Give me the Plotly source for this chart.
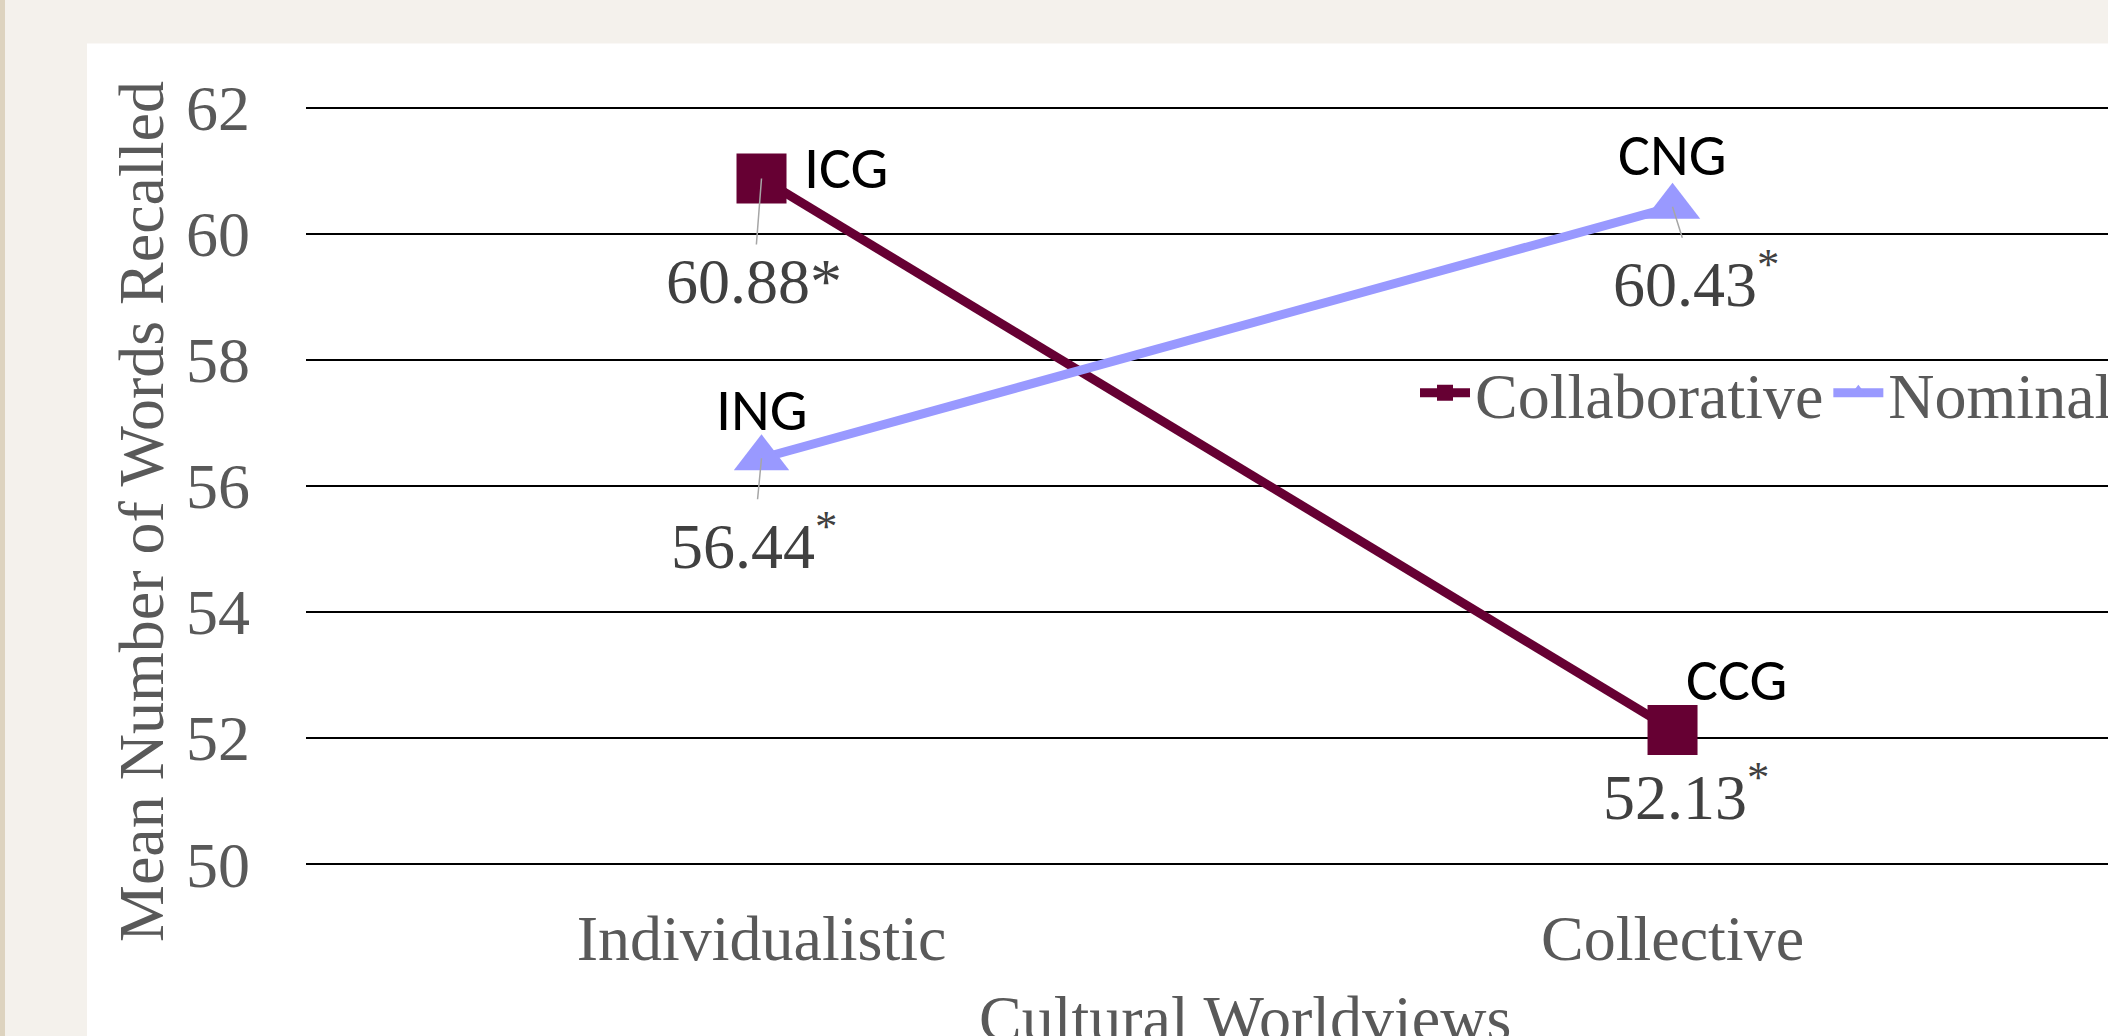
import plotly.graph_objects as go

categories = ["Individualistic", "Collective"]
collab_values = [60.88, 52.13]
nominal_values = [56.44, 60.43]
collab_names = ["ICG", "CCG"]
nominal_names = ["ING", "CNG"]
collab_value_text = ["60.88*", "52.13<sup>*</sup>"]
nominal_value_text = ["56.44<sup>*</sup>", "60.43<sup>*</sup>"]
y_ticks = [50, 52, 54, 56, 58, 60, 62]
x_title = "Cultural Worldviews"
y_title = "Mean Number of Words Recalled"

SERIF = "Times New Roman, Liberation Serif, serif"
SANS = "Carlito, Lato, sans-serif"
COLLAB = "#660033"
NOMINAL = "#9999ff"
AXIS_GRAY = "#595959"

W, H = 2108, 1036
Y_RANGE = [49.97, 62.03]
PX_PER_UNIT = 757 / 12.0
ML = 306
MT = 107.5 - (Y_RANGE[1] - 62) * PX_PER_UNIT
plot_h = (Y_RANGE[1] - Y_RANGE[0]) * PX_PER_UNIT
MB = H - MT - plot_h
plot_w = W - ML
plot_bottom = MT + plot_h


def px_to_paper_x(px):
    return (px - ML) / plot_w


def px_to_paper_y(py):
    return (plot_bottom - py) / plot_h


fig = go.Figure()
fig.add_trace(go.Scatter(
    x=categories, y=collab_values, name="Collaborative", mode="lines+markers",
    line=dict(color=COLLAB, width=9),
    marker=dict(symbol="square", size=50, color=COLLAB),
))
fig.add_trace(go.Scatter(
    x=categories, y=nominal_values, name="Nominal", mode="lines+markers",
    line=dict(color=NOMINAL, width=9),
    marker=dict(symbol="triangle-up", size=48, color=NOMINAL),
))

ann = []
name_font = dict(family=SANS, size=60, color="black")
val_font = dict(family=SERIF, size=64, color="#404040")
lead = dict(showarrow=True, arrowhead=0, arrowwidth=1.5, arrowcolor="#a6a6a6", standoff=0)

# group name labels
name_shifts = {"ICG": (84, 11), "CCG": (64, 50), "ING": (0, 49), "CNG": (0, 52)}
for cat, v, n in zip(categories, collab_values, collab_names):
    dx, dy = name_shifts[n]
    ann.append(dict(x=cat, y=v, text=n, showarrow=False, xshift=dx, yshift=dy, font=name_font))
for cat, v, n in zip(categories, nominal_values, nominal_names):
    dx, dy = name_shifts[n]
    ann.append(dict(x=cat, y=v, text=n, showarrow=False, xshift=dx, yshift=dy, font=name_font))

# value labels with leader lines
val_offsets = {"ICG": (-8, 103, True), "CCG": (13, 63, False), "ING": (-8, 83, True), "CNG": (23, 73, True)}
for cat, v, n, t in zip(categories, collab_values, collab_names, collab_value_text):
    dx, dy, arrow = val_offsets[n]
    if arrow:
        ann.append(dict(x=cat, y=v, text=t, ax=dx, ay=dy, font=val_font, **lead))
    else:
        ann.append(dict(x=cat, y=v, text=t, showarrow=False, xshift=dx, yshift=-dy, font=val_font))
for cat, v, n, t in zip(categories, nominal_values, nominal_names, nominal_value_text):
    dx, dy, arrow = val_offsets[n]
    if arrow:
        ann.append(dict(x=cat, y=v, text=t, ax=dx, ay=dy, font=val_font, **lead))
    else:
        ann.append(dict(x=cat, y=v, text=t, showarrow=False, xshift=dx, yshift=-dy, font=val_font))

# axis titles (placed as in the slide, partly running off the bottom edge)
ann.append(dict(xref="paper", yref="paper", x=px_to_paper_x(1245), y=px_to_paper_y(1019),
                xanchor="center", yanchor="middle", text=x_title, showarrow=False,
                font=dict(family=SERIF, size=64, color=AXIS_GRAY)))
ann.append(dict(xref="paper", yref="paper", x=px_to_paper_x(142), y=px_to_paper_y(512),
                xanchor="center", yanchor="middle", text=y_title, textangle=-90, showarrow=False,
                font=dict(family=SERIF, size=64, color=AXIS_GRAY)))

shapes = [
    # white slide panel
    dict(type="rect", xref="paper", yref="paper", layer="below",
         x0=px_to_paper_x(87), x1=1.01, y0=-0.25, y1=px_to_paper_y(43),
         fillcolor="white", line=dict(width=0)),
    # darker left edge of slide texture
    dict(type="rect", xref="paper", yref="paper", layer="below",
         x0=px_to_paper_x(0), x1=px_to_paper_x(5), y0=-0.25, y1=1.2,
         fillcolor="#ddd3bf", line=dict(width=0)),
]

fig.update_layout(
    width=W, height=H,
    margin=dict(l=ML, r=0, t=MT, b=MB, pad=0, autoexpand=False),
    paper_bgcolor="#f4f1ec",
    plot_bgcolor="white",
    font=dict(family=SERIF, size=64, color=AXIS_GRAY),
    showlegend=True,
    legend=dict(
        orientation="h", x=px_to_paper_x(1415), xanchor="left",
        y=px_to_paper_y(393), yanchor="middle",
        bgcolor="rgba(0,0,0,0)", font=dict(family=SERIF, size=64, color=AXIS_GRAY),
        itemwidth=50, tracegroupgap=0,
    ),
    xaxis=dict(
        type="category", range=[-0.5, 1.478], showgrid=False, zeroline=False,
        showline=False, ticks="", tickfont=dict(family=SERIF, size=64, color=AXIS_GRAY),
        ticklabelstandoff=29, automargin=False,
    ),
    yaxis=dict(
        range=Y_RANGE, tickvals=y_ticks, showgrid=True, gridcolor="black", gridwidth=2,
        zeroline=False, showline=False, ticks="",
        tickfont=dict(family=SERIF, size=64, color=AXIS_GRAY),
        ticklabelstandoff=55, automargin=False,
    ),
    annotations=ann,
    shapes=shapes,
)

fig.write_html(
    "out.html",
    config={"displayModeBar": False},
    post_script="document.documentElement.style.margin='0';document.body.style.margin='0';"
                "document.body.style.overflow='hidden';",
)
